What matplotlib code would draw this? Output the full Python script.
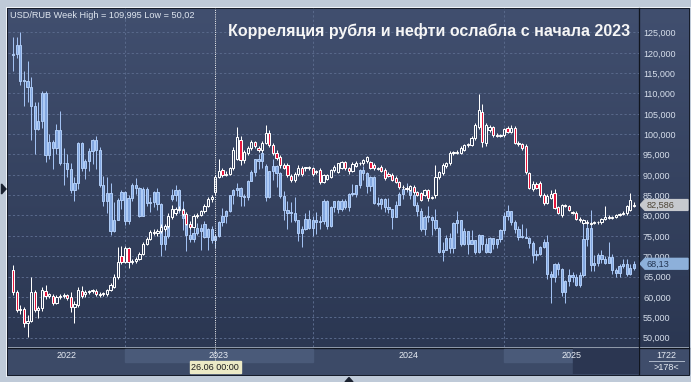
import numpy as np
import pandas as pd
import matplotlib
matplotlib.use("Agg")
import matplotlib.pyplot as plt
from matplotlib.patches import Rectangle, Polygon
from matplotlib.colors import LinearSegmentedColormap

# ---------------- data ----------------
weeks = pd.date_range("2022-05-30", periods=173, freq="7D")

rub_open = [66.6, 61.2, 56.8, 57.0, 53.5, 54.0, 61.1, 56.8, 57.2, 61.5,
            60.2, 60.3, 58.6, 60.0, 60.3, 60.4, 60.0, 57.6, 58.0, 61.5,
            60.6, 61.2, 61.4, 61.5, 60.5, 60.8, 60.6, 61.7, 62.4, 64.8,
            70.0, 68.6, 71.9, 68.6, 68.8, 69.4, 70.5, 73.1, 74.3, 76.0,
            75.7, 76.1, 76.6, 77.3, 79.6, 80.6, 81.7, 81.4, 80.3, 78.0,
            77.2, 79.8, 80.2, 81.0, 82.4, 84.0, 85.8, 89.5, 91.1, 89.9,
            90.3, 91.6, 94.0, 98.5, 93.6, 95.3, 96.5, 98.0, 96.6, 96.0,
            97.8, 100.2, 97.3, 95.3, 94.3, 92.3, 92.3, 89.7, 88.7, 90.1,
            91.8, 91.6, 91.6, 91.6, 90.7, 91.1, 88.3, 89.0, 89.5, 91.1,
            90.7, 91.8, 93.2, 91.6, 91.0, 92.2, 92.8, 92.8, 93.4, 93.1,
            92.4, 91.6, 92.0, 91.2, 90.3, 90.0, 89.2, 88.2, 87.0, 86.8,
            86.2, 87.0, 85.8, 85.5, 85.0, 86.2, 84.3, 85.0, 89.4, 90.4,
            92.1, 92.8, 95.3, 95.4, 95.3, 96.0, 97.3, 97.3, 99.0, 101.7,
            105.4, 97.8, 101.0, 101.7, 99.7, 99.5, 99.7, 101.5, 100.5, 101.5,
            97.8, 97.5, 97.0, 90.4, 86.5, 87.8, 87.9, 85.0, 83.0, 84.3,
            85.5, 82.0, 80.1, 82.5, 82.3, 80.8, 80.6, 79.2, 78.2, 78.5,
            78.0, 78.1, 78.3, 78.3, 79.2, 79.6, 79.5, 79.6, 80.1, 80.3,
            80.5, 81.4, 82.3]
rub_high = [67.8, 61.8, 58.0, 57.5, 55.5, 64.8, 61.8, 57.8, 62.3, 62.8,
            61.0, 60.6, 60.5, 60.8, 60.9, 60.8, 61.2, 59.0, 62.5, 62.6,
            61.8, 61.8, 62.0, 61.9, 61.2, 61.3, 62.0, 63.5, 65.6, 72.3,
            72.6, 72.5, 72.3, 69.3, 69.8, 71.0, 73.5, 74.8, 76.5, 76.8,
            76.6, 77.8, 78.0, 80.5, 82.6, 82.0, 82.4, 81.8, 80.8, 78.6,
            80.4, 80.6, 81.4, 82.8, 84.6, 85.0, 90.0, 93.8, 91.6, 91.0,
            92.0, 96.8, 101.7, 99.5, 96.0, 97.0, 98.6, 98.4, 97.0, 98.3,
            102.2, 101.0, 97.8, 96.0, 94.8, 93.0, 92.8, 90.3, 90.8, 92.3,
            92.2, 92.0, 92.2, 92.0, 91.3, 91.6, 90.2, 90.3, 91.5, 92.3,
            93.0, 93.5, 93.5, 92.0, 93.2, 93.3, 93.2, 94.0, 94.6, 93.5,
            92.8, 92.0, 92.3, 91.6, 90.6, 90.5, 89.6, 88.6, 87.4, 87.2,
            87.6, 87.5, 86.0, 85.8, 86.6, 86.6, 84.8, 92.4, 91.0, 92.8,
            93.2, 95.8, 95.8, 96.0, 97.0, 97.6, 97.8, 99.5, 102.8, 109.995,
            107.4, 102.8, 102.3, 102.0, 100.2, 100.0, 101.6, 102.0, 102.2, 101.9,
            98.2, 97.8, 97.5, 90.8, 88.6, 88.2, 88.4, 85.5, 85.2, 86.2,
            86.6, 82.4, 82.8, 82.8, 82.6, 81.2, 81.0, 79.6, 79.2, 78.8,
            78.4, 78.6, 78.7, 79.5, 82.3, 80.0, 79.9, 80.3, 80.6, 81.0,
            82.6, 85.6, 83.2]
rub_low = [60.5, 56.2, 55.8, 52.5, 50.02, 53.8, 56.3, 54.8, 56.6, 59.5,
           59.6, 57.9, 58.2, 59.5, 59.8, 59.3, 56.3, 53.6, 57.5, 59.8,
           60.0, 60.6, 60.9, 60.2, 60.0, 60.1, 60.3, 61.4, 62.2, 64.5,
           68.0, 68.3, 67.0, 68.0, 68.3, 69.0, 70.2, 72.8, 74.0, 75.3,
           75.0, 75.6, 76.2, 77.0, 79.2, 80.0, 81.0, 79.8, 77.6, 76.8,
           77.0, 79.3, 79.8, 80.6, 82.0, 83.4, 85.0, 89.2, 89.5, 89.6,
           90.0, 91.2, 93.6, 92.5, 93.0, 94.8, 96.2, 96.5, 95.6, 95.6,
           97.5, 96.8, 94.8, 93.6, 91.8, 91.5, 89.5, 88.3, 88.3, 89.8,
           89.6, 91.0, 91.2, 89.8, 90.2, 87.8, 87.9, 88.7, 89.2, 90.8,
           90.4, 91.5, 91.3, 90.1, 90.8, 92.0, 92.4, 92.5, 93.0, 91.5,
           91.3, 91.2, 90.6, 88.8, 89.4, 88.4, 88.0, 86.6, 86.6, 86.3,
           86.0, 85.4, 84.8, 83.5, 84.7, 83.6, 84.0, 84.3, 89.0, 90.0,
           91.8, 92.5, 94.9, 95.0, 95.0, 95.8, 96.9, 97.0, 98.6, 101.2,
           96.8, 97.2, 100.6, 99.3, 99.2, 99.2, 99.3, 100.2, 100.2, 97.5,
           97.2, 96.2, 90.2, 86.4, 86.0, 86.5, 84.6, 82.6, 82.8, 84.0,
           81.5, 80.3, 79.6, 82.0, 81.0, 80.3, 78.8, 78.3, 78.0, 78.0,
           77.6, 77.8, 78.0, 78.0, 79.0, 79.2, 79.2, 79.4, 79.9, 80.0,
           80.2, 81.2, 82.0]
rub_close = [61.2, 56.8, 57.0, 53.5, 54.0, 61.1, 56.8, 57.2, 61.8, 60.2,
             60.6, 58.6, 60.0, 60.2, 60.4, 59.6, 57.6, 58.2, 61.8, 60.3,
             61.2, 61.4, 61.5, 60.7, 60.8, 60.6, 61.7, 62.8, 65.0, 68.5,
             68.5, 72.0, 68.6, 68.9, 69.4, 70.5, 73.1, 74.3, 76.0, 75.7,
             76.1, 77.1, 77.3, 79.8, 81.6, 81.7, 81.4, 80.3, 78.0, 77.2,
             79.8, 80.2, 81.0, 82.4, 84.1, 84.5, 89.5, 91.0, 89.9, 90.3,
             91.6, 96.1, 99.3, 93.6, 95.5, 96.5, 98.0, 97.0, 96.0, 97.8,
             100.2, 97.3, 95.3, 94.1, 92.3, 91.8, 89.9, 88.7, 90.3, 91.8,
             90.1, 91.9, 91.8, 90.2, 91.0, 88.3, 89.9, 89.9, 91.1, 92.0,
             92.8, 93.1, 91.6, 90.9, 92.6, 93.0, 92.9, 93.6, 94.3, 91.8,
             91.6, 91.5, 91.0, 89.2, 89.7, 88.7, 88.3, 87.0, 86.9, 86.6,
             87.2, 85.7, 85.0, 83.8, 86.2, 84.2, 84.4, 89.5, 90.6, 92.3,
             92.8, 95.3, 95.4, 95.6, 96.5, 97.3, 97.5, 99.0, 102.2, 105.9,
             98.1, 102.2, 101.7, 99.7, 99.5, 99.6, 101.2, 100.5, 101.5, 97.8,
             97.5, 96.5, 90.6, 86.7, 87.8, 86.8, 85.0, 83.0, 84.8, 85.4,
             81.8, 80.6, 82.5, 82.3, 81.3, 80.6, 79.1, 78.8, 78.9, 78.2,
             78.1, 78.4, 78.4, 79.1, 79.7, 79.4, 79.7, 80.1, 80.4, 80.6,
             82.3, 83.8, 82.586]

oil_open = [119.5, 119.7, 122.0, 113.1, 113.1, 111.6, 107.0, 101.2, 103.2, 110.0,
            94.9, 98.1, 96.7, 101.0, 93.0, 92.8, 91.4, 86.2, 88.0, 97.9,
            91.6, 93.5, 95.8, 98.6, 96.0, 87.6, 83.6, 85.6, 76.1, 79.0,
            83.9, 85.9, 78.6, 84.3, 87.6, 86.7, 79.9, 86.4, 83.0, 83.2,
            85.8, 82.8, 73.0, 75.0, 84.0, 85.1, 86.3, 81.7, 79.5, 75.3,
            74.2, 75.6, 77.0, 78.0, 74.8, 76.6, 73.9, 74.9, 78.5, 79.9,
            81.1, 85.0, 86.2, 86.8, 84.8, 84.5, 88.6, 90.7, 93.9, 93.3,
            92.2, 84.6, 90.9, 92.2, 90.5, 84.9, 81.4, 80.6, 80.6, 78.9,
            75.8, 76.6, 79.1, 77.0, 78.8, 78.3, 78.6, 83.6, 77.3, 82.2,
            83.5, 81.6, 83.6, 82.1, 85.3, 85.4, 87.5, 91.2, 90.5, 87.3,
            89.5, 83.0, 82.8, 84.0, 82.1, 81.6, 79.6, 82.6, 85.2, 86.4,
            86.5, 85.0, 82.6, 81.1, 76.8, 79.7, 79.7, 79.0, 76.9, 71.1,
            71.6, 74.5, 72.0, 78.1, 79.0, 73.1, 76.1, 73.1, 73.9, 71.0,
            75.2, 72.9, 71.1, 74.5, 72.9, 74.2, 76.5, 79.8, 81.0, 78.5,
            76.8, 74.7, 74.7, 74.4, 73.2, 70.4, 70.6, 72.2, 73.6, 65.6,
            64.8, 68.0, 66.9, 61.3, 63.9, 65.4, 64.8, 62.8, 65.3, 74.2,
            77.0, 67.8, 68.3, 70.4, 69.3, 68.4, 69.7, 66.6, 65.9, 67.7,
            68.1, 65.5, 67.0]
oil_high = [124.0, 124.0, 125.0, 115.6, 118.0, 114.0, 108.0, 108.0, 110.5, 110.5,
            100.0, 98.5, 102.5, 105.6, 96.6, 95.0, 93.0, 89.4, 98.0, 98.0,
            94.0, 96.5, 98.8, 99.6, 96.8, 89.8, 89.4, 88.0, 83.3, 84.4,
            86.2, 86.0, 85.0, 88.0, 89.1, 87.0, 86.9, 86.9, 84.5, 86.0,
            86.7, 83.0, 77.0, 80.2, 86.4, 87.5, 86.5, 83.5, 80.0, 78.0,
            77.0, 78.2, 77.8, 78.7, 77.0, 77.4, 75.4, 78.6, 81.8, 81.3,
            85.1, 86.6, 88.1, 86.9, 85.2, 88.8, 91.2, 94.0, 95.0, 97.7,
            92.6, 91.0, 93.8, 92.5, 90.8, 86.0, 83.5, 83.3, 84.5, 79.0,
            77.5, 80.6, 81.3, 79.8, 80.8, 79.8, 84.0, 83.9, 82.4, 83.6,
            83.8, 84.0, 84.0, 85.6, 87.7, 87.6, 91.4, 92.2, 90.8, 89.6,
            89.7, 84.5, 84.2, 84.3, 84.4, 81.7, 83.6, 85.8, 87.0, 87.9,
            86.5, 86.0, 83.3, 81.9, 80.0, 82.4, 79.8, 81.7, 77.2, 73.4,
            75.1, 75.8, 78.5, 81.2, 79.0, 77.0, 76.1, 76.4, 74.0, 75.5,
            75.3, 74.5, 74.6, 74.5, 74.2, 76.7, 80.8, 82.6, 81.2, 79.0,
            77.3, 77.8, 76.9, 74.8, 73.8, 71.4, 72.6, 74.2, 75.3, 66.4,
            68.3, 68.6, 67.0, 64.2, 66.8, 66.0, 65.6, 66.1, 78.5, 79.0,
            81.4, 70.3, 70.8, 71.5, 70.0, 73.6, 70.5, 67.1, 68.0, 69.2,
            69.2, 68.1, 68.8]
oil_low = [115.5, 118.8, 112.0, 107.0, 108.0, 98.5, 95.0, 101.0, 101.5, 93.2,
           94.0, 91.5, 95.0, 92.4, 87.4, 89.5, 85.6, 83.6, 86.5, 91.0,
           89.0, 91.0, 92.7, 91.5, 87.0, 82.3, 80.6, 75.1, 75.9, 78.8,
           81.5, 77.6, 78.0, 83.6, 85.4, 79.6, 79.8, 82.3, 80.8, 82.2,
           81.3, 70.1, 71.6, 74.5, 83.5, 83.5, 80.6, 76.5, 71.3, 73.5,
           73.6, 75.1, 71.4, 74.4, 71.6, 73.3, 71.9, 74.8, 77.5, 78.1,
           80.9, 82.9, 84.9, 82.4, 82.4, 83.9, 88.6, 89.8, 91.5, 91.6,
           83.5, 84.2, 88.8, 87.0, 84.2, 79.0, 76.6, 78.4, 78.4, 73.8,
           72.3, 76.5, 76.8, 75.0, 75.4, 76.8, 78.0, 76.6, 77.2, 80.8,
           80.6, 81.0, 81.6, 81.1, 84.8, 84.6, 86.8, 88.8, 85.6, 86.0,
           82.8, 82.4, 81.6, 80.8, 80.7, 76.8, 79.6, 82.6, 84.0, 85.9,
           84.1, 82.4, 79.9, 76.3, 75.1, 78.4, 75.1, 76.5, 70.8, 68.7,
           71.6, 70.9, 70.9, 75.6, 72.6, 72.7, 70.6, 72.9, 70.6, 70.9,
           71.6, 70.9, 70.9, 71.8, 72.1, 73.6, 75.5, 79.0, 77.7, 75.6,
           74.0, 74.4, 74.4, 71.9, 68.3, 69.0, 70.2, 71.9, 64.5, 58.4,
           63.6, 65.3, 60.2, 58.4, 62.6, 63.6, 62.6, 62.5, 64.9, 72.5,
           66.3, 66.3, 67.6, 68.3, 68.0, 68.4, 65.7, 65.0, 65.0, 67.0,
           65.1, 65.4, 66.5]
oil_close = [119.7, 122.0, 113.1, 113.1, 111.6, 107.0, 101.2, 103.2, 110.0, 94.9,
             98.1, 96.7, 101.0, 93.0, 92.8, 91.4, 86.2, 88.0, 97.9, 91.6,
             93.5, 95.8, 98.6, 96.0, 87.6, 83.6, 85.6, 76.1, 79.0, 83.9,
             85.9, 78.6, 84.3, 87.6, 86.7, 79.9, 86.4, 83.0, 83.2, 85.8,
             82.8, 73.0, 75.0, 79.8, 85.1, 86.3, 81.7, 79.5, 75.3, 74.2,
             75.6, 77.0, 76.1, 74.8, 76.6, 73.9, 74.9, 78.5, 79.9, 81.1,
             85.0, 86.2, 86.8, 84.8, 84.5, 88.6, 90.7, 93.9, 93.3, 95.3,
             84.6, 90.9, 92.2, 90.5, 84.9, 81.4, 80.6, 80.6, 78.9, 75.8,
             76.6, 79.1, 77.0, 78.8, 78.3, 78.6, 83.6, 77.3, 82.2, 83.5,
             81.6, 83.6, 82.1, 85.3, 85.4, 87.5, 91.2, 90.5, 87.3, 89.5,
             83.0, 82.8, 84.0, 82.1, 81.6, 79.6, 82.6, 85.2, 86.4, 86.5,
             85.0, 82.6, 81.1, 76.8, 79.7, 79.7, 79.0, 76.9, 71.1, 71.6,
             74.5, 72.0, 78.1, 79.0, 73.1, 76.1, 73.1, 73.9, 71.0, 75.2,
             72.9, 71.1, 74.5, 72.9, 74.2, 76.5, 79.8, 81.0, 78.5, 76.8,
             74.7, 74.7, 74.4, 73.2, 70.4, 70.6, 72.2, 73.6, 65.6, 64.8,
             68.0, 66.9, 61.3, 63.9, 65.4, 64.8, 62.8, 65.3, 74.2, 77.0,
             67.8, 68.3, 70.4, 69.3, 68.4, 69.7, 66.6, 65.9, 67.7, 68.1,
             65.5, 67.0, 68.13]

y_ticks = [50, 55, 60, 65, 70, 75, 80, 85, 90, 95, 100, 105, 110, 115, 120, 125]
y_tick_labels = ["50,000", "55,000", "60,000", "65,000", "70,000", "75,000",
                 "80,000", "85,000", "90,000", "95,000", "100,000", "105,000",
                 "110,000", "115,000", "120,000", "125,000"]
years = [2022, 2023, 2024, 2025]
title = "Корреляция рубля и нефти ослабла с начала 2023"
header = "USD/RUB Week High = 109,995 Low = 50,02"
last_rub_label = "82,586"
last_oil_label = "68,13"
cursor_date = "2023-06-26"
cursor_label = "26.06 00:00"
bars_total = "1722"
bars_shown = ">178<"

# ---------------- layout ----------------
W, H = 691, 382
FONT = "Liberation Sans"
fig = plt.figure(figsize=(W / 100, H / 100), dpi=100)


def rect(x0, y0, x1, y1):
    return [x0 / W, 1 - y1 / H, (x1 - x0) / W, (y1 - y0) / H]


PX = 0.72  # one pixel in points

# background / frame axes in pixel units
ax_bg = fig.add_axes([0, 0, 1, 1])
ax_bg.axis("off")
ax_bg.add_patch(Rectangle((0, 0), W, H, color="#bfcad8", zorder=0))
cmap = LinearSegmentedColormap.from_list("bg", ["#414f6f", "#2b3752"])
grad = np.linspace(0, 1, 256)[:, None]
ax_bg.imshow(grad, extent=(8, 689, 347, 8), cmap=cmap, aspect="auto",
             origin="upper", interpolation="bilinear", zorder=1)
ax_bg.add_patch(Rectangle((8, 348), 631, 26, color="#3c4a67", zorder=2))
ax_bg.add_patch(Rectangle((640, 348), 49, 26, color="#3f4d6b", zorder=2))
ax_bg.set_xlim(0, W)
ax_bg.set_ylim(H, 0)
# frame lines
ax_bg.plot([6.5, 6.5], [6.5, 375.5], color="#eef2f7", lw=PX, zorder=3)
ax_bg.plot([6.5, 690], [6.5, 6.5], color="#eef2f7", lw=PX, zorder=3)
ax_bg.plot([7.5, 7.5, 689.5, 689.5, 7.5], [7.5, 374.5, 374.5, 7.5, 7.5],
           color="#161c2a", lw=PX, zorder=3)
ax_bg.plot([639.5, 639.5], [8, 374], color="#10151f", lw=PX * 1.3, zorder=3)
ax_bg.plot([8, 689], [347.5, 347.5], color="#10151f", lw=PX * 1.3, zorder=3)
# small navigation triangles
ax_bg.add_patch(Polygon([(1.5, 184), (6, 189), (1.5, 194)], color="#1b2230", zorder=4))
ax_bg.add_patch(Polygon([(345, 382), (353, 382), (349, 377.5)], color="#1b2230", zorder=4))

# ---------------- price axes ----------------
n = len(rub_close)
xi = np.arange(n)
year_start_idx = {y: int(np.argmax(weeks.year == y)) for y in years[1:]}
i23, i25 = year_start_idx[2023], year_start_idx[2025]
step = (504 - 125) / (i25 - i23)
xlim = (i23 - (125 - 8) / step, i23 + (639 - 125) / step)
ylim = (50 - (347 - 337.5) / 4.067, 125 + (32.5 - 8) / 4.067)

ax = fig.add_axes(rect(8, 8, 639, 347))
ax.set_facecolor("none")
ax.set_xlim(*xlim)
ax.set_ylim(*ylim)
ax.axis("off")

grid_col = "#58688a"
for v in y_ticks:
    ax.axhline(v, color=grid_col, lw=PX, ls=(0, (2.2, 2.2)), zorder=1)
for y in years[1:]:
    ax.axvline(year_start_idx[y], color=grid_col, lw=PX, ls=(0, (2.2, 2.2)), zorder=1)


def candles(ax, o, h, l, c, up_face, down_face, edge, wick, width, z):
    o, h, l, c = map(np.asarray, (o, h, l, c))
    top = np.maximum(o, c)
    bot = np.minimum(o, c)
    hi = np.maximum(h, top)
    lo = np.minimum(l, bot)
    ax.vlines(xi, top, hi, color=wick, lw=PX, zorder=z)
    ax.vlines(xi, lo, bot, color=wick, lw=PX, zorder=z)
    hgt = np.maximum(top - bot, 0.22)
    faces = [up_face if cc >= oo else down_face for oo, cc in zip(o, c)]
    ax.bar(xi, hgt, bottom=bot, width=width, color=faces, edgecolor=edge,
           linewidth=PX, zorder=z + 0.1)


candles(ax, oil_open, oil_high, oil_low, oil_close,
        up_face="#82a6df", down_face="#82a6df", edge="#aecbf5",
        wick="#a2c1f2", width=0.62, z=3)
candles(ax, rub_open, rub_high, rub_low, rub_close,
        up_face="#35425f", down_face="#e8173d", edge="#ffffff",
        wick="#ffffff", width=0.62, z=5)

cur_i = int(np.argmax(weeks == pd.Timestamp(cursor_date)))
ax.axvline(cur_i, color="#f0f0f0", lw=PX, ls=(0, (1, 1.2)), zorder=7)

ax.text(0.003, (347 - 15) / 339, header, transform=ax.transAxes,
        ha="left", va="center", fontsize=6.6, color="#dfe6f0", family=FONT, zorder=8)
ax.text((228 - 8) / 631, (347 - 31) / 339, title, transform=ax.transAxes,
        ha="left", va="center", fontsize=11.5, fontweight="bold", color="#f6f6f6",
        family=FONT, zorder=8)

# ---------------- right price scale ----------------
ax_r = fig.add_axes(rect(640, 8, 689, 347))
ax_r.set_facecolor("none")
ax_r.set_xlim(0, 49)
ax_r.set_ylim(*ylim)
ax_r.axis("off")
for v, lab in zip(y_ticks, y_tick_labels):
    ax_r.text(3, v - 0.25, lab, ha="left", va="center", fontsize=6.5,
              color="#d6deeb", family=FONT)

hh = 5.4 / 4.067
for val, lab, fc, tc in [(rub_close[-1], last_rub_label, "#c6c9ce", "#4e4536"),
                         (oil_close[-1], last_oil_label, "#8db0da", "#243754")]:
    ax_r.add_patch(Polygon([(0, val), (5, val + hh), (48, val + hh), (48, val - hh),
                            (5, val - hh)], closed=True, color=fc, zorder=5))
    ax_r.text(6.5, val - 0.2, lab, ha="left", va="center", fontsize=6.6,
              color=tc, family=FONT, zorder=6)

# ---------------- time axis ----------------
ax_t = fig.add_axes(rect(8, 348, 639, 374))
ax_t.set_facecolor("none")
ax_t.set_xlim(*xlim)
ax_t.set_ylim(26, 0)
ax_t.axis("off")
i24 = year_start_idx[2024]
ax_t.add_patch(Rectangle((i23, 1), i24 - i23, 13, color="#4a5a79", zorder=1))
ax_t.add_patch(Rectangle((i25, 1), xlim[1] - i25, 13, color="#4a5a79", zorder=1))
ax_t.add_patch(Rectangle(((573 - 8) / 631, 0), (639 - 573) / 631, 1,
                         transform=ax_t.transAxes, color="#2b3651", zorder=2))
centers = [(xlim[0] + i23) / 2, (i23 + i24) / 2, (i24 + i25) / 2, (i25 + xlim[1]) / 2]
for yr, cx in zip(years, centers):
    ax_t.text(cx, 7.5, str(yr), ha="center", va="center", fontsize=6.5,
              color="#e6ebf3", family=FONT, zorder=3)
ax_t.plot([cur_i, cur_i], [0, 14], color="#f0f0f0", lw=PX, ls=(0, (1, 1.2)), zorder=4)
ax_t.text(cur_i, 19.3, cursor_label, ha="center", va="center", fontsize=6.5,
          color="#1d1d1d", family=FONT, zorder=5,
          bbox=dict(boxstyle="square,pad=0.18", fc="#eceac6", ec="#eceac6"))

# bottom-right counter box
ax_c = fig.add_axes(rect(640, 348, 689, 374))
ax_c.set_facecolor("none")
ax_c.set_xlim(0, 49)
ax_c.set_ylim(26, 0)
ax_c.axis("off")
ax_c.text(26, 7.5, bars_total, ha="center", va="center", fontsize=6.5,
          color="#e6ebf3", family=FONT)
ax_c.plot([9, 44], [13.3, 13.3], color="#a9b4c6", lw=PX)
ax_c.text(26, 19.5, bars_shown, ha="center", va="center", fontsize=6.5,
          color="#e6ebf3", family=FONT)

fig.savefig("out.png", dpi=100)
